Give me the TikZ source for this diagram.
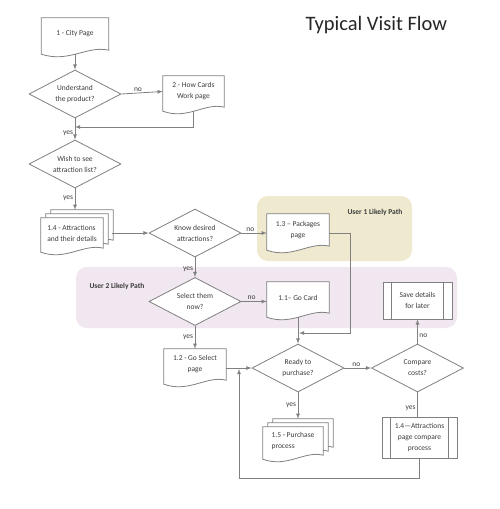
\documentclass[tikz,border=0pt]{standalone}
\usepackage{fontspec}
\setmainfont{Carlito}
\usepackage{tikz}
\usetikzlibrary{shapes.geometric}
\usetikzlibrary{positioning}
\usetikzlibrary{calc}
\definecolor{linegray}{RGB}{128,128,128}
\definecolor{textgray}{RGB}{60,60,60}
\definecolor{pathone}{RGB}{239,233,207}
\definecolor{pathtwo}{RGB}{240,231,240}
\pgfdeclarelayer{regions}
\pgfdeclarelayer{shapes}
\pgfsetlayers{regions,shapes,main}
\tikzset{box/.style={inner sep=1pt,align=center,font=\fontsize{7.5}{11}\selectfont,text=textgray},
doc/.style={box,minimum width=62pt,minimum height=31pt},
dec/.style={box,diamond,aspect=2,inner sep=0pt,draw=linegray,line width=0.8pt,fill=white,minimum width=92pt,minimum height=48pt},
proc/.style={box,rectangle,draw=linegray,line width=0.8pt,fill=white},
link/.style={draw=linegray,line width=0.8pt},
arr/.style={link,-latex},
lbl/.style={font=\fontsize{7.5}{9}\selectfont,text=textgray,inner sep=1.5pt},
region/.style={rounded corners=11pt},
rlbl/.style={font=\fontsize{7.5}{9}\selectfont\bfseries,text=textgray}}
% outline of a document page, shifted by (#2,#3)
\newcommand{\docshape}[3]{%
\begin{pgfonlayer}{shapes}
\draw[link,fill=white] ($(#1.north west)+(#2,#3)$) -- ($(#1.north east)+(#2,#3)$) -- ($(#1.south east)+(#2,#3)$)
 .. controls ($(#1.south)+(#2,#3)+(12,-5)$) and ($(#1.south)+(#2,#3)+(-6,13)$) .. ($(#1.south west)+(#2,#3)+(0,4)$) -- cycle;
\end{pgfonlayer}}
\newcommand{\multidoc}[1]{%
\foreach \k in {2,1} {\docshape{#1}{\k*5}{-\k*4}}
\docshape{#1}{0}{0}}
\newcommand{\predef}[1]{%
\draw[link] ($(#1.north west)+(9,0)$) -- ($(#1.south west)+(9,0)$);
\draw[link] ($(#1.north east)+(-9,0)$) -- ($(#1.south east)+(-9,0)$);}

\begin{document}
\begin{tikzpicture}[x=1pt,y=-1pt]
\useasboundingbox (0,0) rectangle (500,509);

\begin{pgfonlayer}{regions}
\fill[pathone,region] (257,196) rectangle (412,261);
\fill[pathtwo,region] (76,267) rectangle (457,328);
\end{pgfonlayer}
\node (u1) at (375,212) [rlbl] {User 1 Likely Path};
\node (u2) at (86,286) [rlbl,anchor=west] {User 2 Likely Path};

\node (title) at (302,30) [anchor=base west,font=\fontsize{20.5}{24}\selectfont,text=black!85] {Typical Visit Flow};

\node (city) at (75,34) [doc,minimum width=67pt,minimum height=32pt] {1 - City Page};
\node (und) at (75,94) [dec] {Understand\\the product?};
\node (how) at (193.5,91.5) [doc,minimum width=61pt] {2 - How Cards\\Work page};
\node (wish) at (75,164) [dec] {Wish to see\\attraction list?};
\node (att) at (72,233) [doc,minimum height=30pt,align=left] {1.4 - Attractions\\and their details};
\node (know) at (195,233) [dec] {Know desired\\attractions?};
\node (pack) at (298,230) [doc,minimum height=32pt] {1.3 – Packages\\page};
\node (sel) at (195,301.5) [dec] {Select them\\now?};
\node (go) at (298,297.5) [doc] {1.1– Go Card};
\node (save) at (417.5,300.5) [proc,minimum width=69pt,minimum height=37pt] {Save details\\for later};
\node (gosel) at (195,364.5) [doc] {1.2 - Go Select\\page};
\node (ready) at (298,368) [dec] {Ready to\\purchase?};
\node (comp) at (417.5,368) [dec] {Compare\\costs?};
\node (purch) at (293,441) [doc,minimum width=60pt,minimum height=28pt,align=left] {1.5 - Purchase\\process};
\node (cmpproc) at (419.5,437.5) [proc,minimum width=75pt,minimum height=41pt] {1.4—Attractions\\page compare\\process};

\docshape{city}{0}{0}
\docshape{how}{0}{0}
\docshape{pack}{0}{0}
\docshape{go}{0}{0}
\docshape{gosel}{0}{0}
\multidoc{att}
\multidoc{purch}
\predef{save}
\predef{cmpproc}

\coordinate (join) at (75,127);
\coordinate (merge) at (299,333);
\coordinate (loopcorner) at (239,478);
\coordinate (loopend) at (239,369);

\draw[arr] ($(city.south)+(0,3.5)$) -- (und.north);
\draw[arr] (und.east) -- node[lbl,above,pos=0.4] {no} (how.west);
\draw[arr] ($(how.south)+(0,3.5)$) |- (join);
\draw[arr] (und.south) -- node[lbl,left,pos=0.68] {yes} (wish.north);
\draw[arr] (wish.south) -- node[lbl,left,pos=0.45] {yes} ($(wish.south |- att.north)+(0,-8)$);
\draw[arr] ($(att.east |- know.west)+(9,0)$) -- (know.west);
\draw[arr] (know.east) -- node[lbl,above,pos=0.35] {no} (pack.west |- know.east);
\draw[arr] (pack.east |- know.east) -| ($(merge)+(51,0)$) -- (merge);
\draw[arr] (know.south) -- node[lbl,left,pos=0.6] {yes} (sel.north);
\draw[arr] (sel.east) -- node[lbl,above,pos=0.4] {no} (go.west |- sel.east);
\draw[arr] ($(go.south)+(0,3.5)$) -- (ready.north);
\draw[arr] (sel.south) -- node[lbl,left,pos=0.5] {yes} (gosel.north);
\draw[arr] (gosel.east |- ready.west) -- (ready.west);
\draw[arr] (ready.east) -- node[lbl,above,pos=0.45] {no} (comp.west);
\draw[arr] (ready.south) -- node[lbl,left,pos=0.5] {yes} ($(ready.south |- purch.north)+(0,-8)$);
\draw[arr] (comp.north) -- node[lbl,right,pos=0.32] {no} (comp.north |- save.south);
\draw[link] (comp.south) -- node[lbl,left,pos=0.64] {yes} (comp.south |- cmpproc.north);
\draw[arr] (cmpproc.south) |- (loopcorner) -- (loopend);

\end{tikzpicture}
\end{document}
